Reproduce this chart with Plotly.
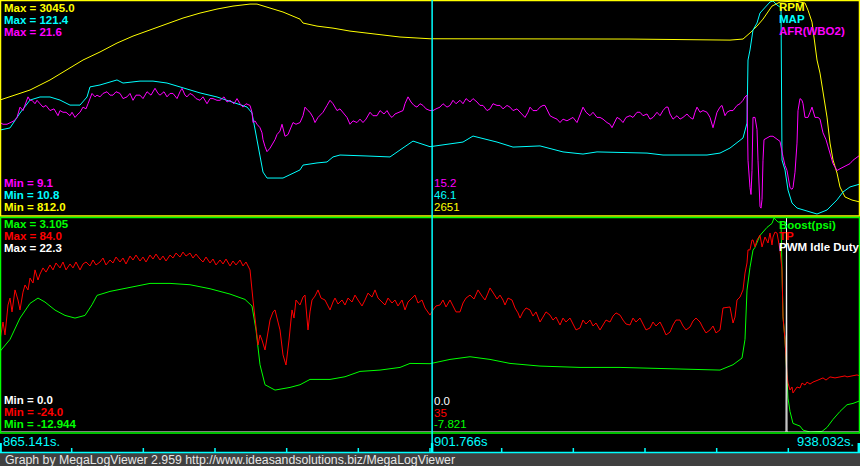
import plotly.graph_objects as go

# ---------------- log window ----------------
T0, T1 = 865.141, 938.032          # visible time window (s)
N_REC = 860                        # records in the window
REC_DT = (T1 - T0) / N_REC         # log record period (s)
CURSOR_T = 901.766

# ---------------- scales (min, max) ----------------
rpm_scale = (812.0, 3045.0)
map_scale = (10.8, 121.4)
afr_scale = (9.1, 21.6)
boost_scale = (-12.944, 3.105)
tp_scale = (-24.0, 84.0)
pwm_scale = (0.0, 22.3)

# cursor read-outs
cur_afr, cur_map, cur_rpm = "15.2", "46.1", "2651"
cur_pwm, cur_tp, cur_boost = "0.0", "35", "-7.821"

# ---------------- series (record number, value) ----------------
rpm_rec = [0, 30, 50, 67, 83, 100, 117, 133, 150, 167,
           183, 200, 217, 233, 250, 257, 267, 283, 300, 303,
           317, 333, 350, 367, 383, 400, 430, 530, 630, 730,
           743, 750, 757, 763, 772, 780, 795, 805, 808, 812,
           817, 820, 823, 827, 830, 833, 837, 840, 845, 852,
           860]
rpm = [2012, 2116, 2221, 2325, 2429, 2513, 2606, 2679, 2742, 2804,
       2867, 2919, 2961, 2992, 3013, 3013, 2982, 2930, 2856, 2815,
       2783, 2762, 2731, 2710, 2689, 2669, 2651, 2648, 2648, 2637,
       2648, 2712, 2783, 2856, 2992, 3034, 3045, 3024, 2950, 2825,
       2429, 2293, 2085, 1834, 1563, 1386, 1250, 1104, 1000, 968,
       948]

map_rec = [0, 10, 20, 30, 40, 50, 60, 70, 80, 87,
           90, 100, 117, 123, 140, 153, 167, 183, 200, 217,
           233, 247, 252, 257, 260, 263, 267, 283, 300, 303,
           317, 327, 333, 340, 367, 390, 400, 413, 430, 463,
           473, 497, 513, 540, 563, 583, 597, 647, 663, 707,
           720, 730, 743, 747, 748, 750, 753, 757, 760, 770,
           773, 777, 780, 781, 782, 785, 788, 792, 797, 803,
           817, 827, 837, 843, 850, 860]
map_kpa = [54.7, 55.8, 63.5, 70.2, 71.8, 71.8, 70.2, 67.6, 67.6, 71.8,
           77.0, 78.0, 80.6, 79.0, 80.0, 80.0, 79.0, 76.4, 73.9, 71.8,
           69.2, 66.6, 63.5, 49.6, 42.8, 33.0, 29.9, 29.9, 34.1, 36.6,
           37.7, 38.2, 40.8, 41.8, 41.3, 40.8, 44.4, 49.0, 46.1, 48.5,
           51.6, 48.5, 45.9, 46.5, 43.4, 42.3, 43.4, 42.8, 41.8, 41.8,
           42.8, 45.4, 50.6, 58.3, 90.9, 96.1, 106.4, 110.0, 115.2, 120.9,
           121.4, 119.3, 118.3, 118.0, 39.2, 34.1, 23.7, 17.0, 14.4, 13.4,
           11.3, 13.4, 18.6, 22.7, 25.3, 26.8]

afr_rec = [0, 3, 7, 10, 14, 17, 20, 23, 25, 28,
           30, 32, 35, 37, 40, 43, 46, 50, 54, 58,
           60, 63, 66, 70, 72, 75, 78, 80, 83, 86,
           88, 90, 92, 95, 97, 100, 103, 107, 110, 113,
           116, 120, 123, 127, 130, 133, 136, 140, 143, 147,
           151, 155, 158, 160, 164, 167, 170, 173, 177, 180,
           182, 185, 187, 190, 193, 196, 200, 203, 207, 210,
           213, 217, 220, 224, 227, 230, 234, 237, 240, 243,
           246, 250, 252, 253, 255, 257, 260, 262, 263, 265,
           267, 270, 272, 275, 277, 280, 282, 284, 285, 288,
           290, 293, 296, 300, 303, 305, 308, 310, 313, 315,
           318, 320, 323, 327, 330, 333, 337, 340, 343, 347,
           350, 353, 357, 360, 363, 366, 370, 373, 377, 380,
           384, 387, 390, 392, 395, 400, 403, 405, 408, 411,
           414, 417, 420, 423, 426, 430, 433, 436, 440, 443,
           447, 450, 453, 456, 460, 463, 466, 470, 473, 477,
           480, 483, 487, 490, 493, 497, 500, 503, 507, 510,
           513, 517, 520, 523, 525, 528, 530, 533, 537, 540,
           543, 545, 548, 550, 553, 557, 560, 563, 567, 570,
           573, 577, 580, 583, 586, 590, 593, 597, 600, 603,
           607, 610, 612, 615, 617, 620, 623, 626, 630, 633,
           637, 640, 643, 647, 650, 653, 657, 660, 663, 666,
           668, 670, 673, 677, 680, 683, 687, 690, 693, 695,
           697, 700, 703, 707, 710, 713, 715, 717, 720, 722,
           725, 727, 730, 733, 737, 740, 743, 745, 747, 748,
           750, 751, 752, 753, 755, 757, 758, 760, 761, 762,
           763, 764, 767, 770, 773, 775, 778, 780, 783, 785,
           787, 788, 790, 792, 793, 795, 797, 798, 800, 802,
           803, 805, 808, 810, 812, 815, 818, 820, 823, 826,
           828, 831, 833, 835, 837, 840, 843, 847, 850, 853,
           855, 858, 860]
afr = [14.5, 14.4, 14.4, 14.5, 14.6, 14.8, 15.4, 15.2, 15.5, 16.0,
       15.8, 15.8, 15.6, 15.8, 15.6, 15.4, 15.5, 15.2, 15.3, 14.9,
       15.2, 15.1, 15.1, 14.9, 15.1, 14.8, 15.0, 15.1, 15.4, 15.3,
       15.6, 15.9, 16.2, 16.0, 16.1, 16.0, 16.2, 16.3, 16.1, 16.1,
       16.3, 16.2, 15.9, 16.0, 16.2, 15.8, 16.1, 16.1, 15.9, 16.3,
       16.1, 16.5, 16.2, 16.1, 16.3, 16.0, 16.2, 16.2, 15.9, 16.3,
       16.5, 16.1, 16.0, 16.2, 16.1, 15.9, 15.8, 16.0, 15.6, 15.9,
       15.9, 15.8, 15.8, 16.0, 15.7, 15.8, 15.6, 15.9, 15.6, 15.4,
       15.6, 15.5, 15.1, 14.5, 14.6, 14.4, 14.2, 13.9, 13.5, 13.1,
       12.8, 13.0, 13.2, 13.5, 13.8, 14.0, 14.4, 14.0, 13.7, 13.8,
       14.1, 14.5, 14.4, 14.5, 14.9, 15.4, 15.2, 15.1, 14.8, 14.5,
       14.8, 14.9, 15.1, 15.5, 15.8, 15.6, 15.2, 15.3, 15.1, 14.8,
       14.4, 14.6, 14.5, 14.7, 14.5, 14.7, 15.1, 14.9, 14.9, 15.2,
       15.0, 15.2, 14.9, 14.8, 15.0, 15.1, 15.2, 15.6, 16.0, 15.7,
       15.5, 15.4, 15.6, 15.5, 15.3, 15.2, 15.2, 15.3, 15.4, 15.6,
       15.4, 15.5, 15.8, 15.6, 15.8, 15.6, 15.9, 15.7, 15.9, 15.7,
       15.5, 15.5, 15.2, 15.3, 15.6, 15.5, 15.5, 15.3, 15.5, 15.4,
       15.2, 15.3, 15.1, 14.9, 14.8, 15.1, 15.4, 15.2, 15.2, 15.4,
       15.5, 15.5, 15.1, 14.9, 14.8, 14.7, 14.5, 14.7, 14.6, 14.7,
       14.8, 14.5, 15.0, 15.4, 15.1, 14.9, 15.1, 14.8, 14.8, 14.7,
       14.5, 14.4, 14.2, 14.6, 14.8, 14.7, 14.5, 14.8, 14.9, 14.8,
       15.1, 15.1, 14.9, 15.0, 14.7, 14.8, 15.1, 14.9, 15.2, 15.4,
       15.4, 15.0, 14.7, 14.9, 14.7, 14.8, 15.0, 14.8, 14.7, 15.1,
       15.4, 15.1, 15.2, 15.1, 14.8, 14.2, 14.7, 15.1, 15.4, 15.5,
       14.9, 15.1, 15.2, 15.2, 15.5, 15.6, 15.8, 16.0, 16.1, 12.3,
       10.7, 10.3, 11.7, 14.8, 14.8, 14.1, 12.3, 9.6, 9.5, 10.0,
       12.3, 13.5, 13.6, 13.7, 13.7, 13.6, 13.5, 13.4, 12.5, 12.0,
       11.7, 11.3, 10.7, 10.6, 10.7, 11.6, 13.3, 15.2, 15.9, 15.8,
       15.6, 14.8, 14.8, 15.1, 15.4, 14.8, 14.8, 14.7, 13.9, 13.5,
       13.1, 12.6, 12.1, 11.9, 11.7, 11.8, 11.9, 12.0, 12.1, 12.3,
       12.4, 12.5, 12.6]

boost_rec = [0, 10, 20, 30, 38, 45, 55, 65, 75, 85,
             92, 97, 110, 130, 150, 170, 190, 210, 230, 245,
             252, 256, 260, 265, 275, 290, 300, 310, 330, 345,
             360, 380, 400, 410, 430, 450, 470, 490, 510, 540,
             580, 620, 660, 700, 720, 733, 742, 745, 747, 750,
             753, 755, 760, 767, 772, 774, 778, 781, 782, 783,
             785, 787, 788, 790, 793, 800, 803, 810, 818, 822,
             827, 833, 840, 847, 853, 860]
boost = [-6.9, -6.0, -4.4, -3.3, -2.9, -3.2, -3.8, -4.2, -4.4, -4.2,
         -3.4, -2.7, -2.4, -2.1, -1.8, -1.8, -1.9, -2.2, -2.6, -3.0,
         -3.5, -5.3, -7.9, -9.4, -9.8, -9.6, -9.4, -9.0, -9.0, -8.8,
         -8.4, -8.3, -8.1, -7.8, -7.821, -7.5, -7.3, -7.5, -7.8, -8.0,
         -8.1, -8.1, -8.2, -8.3, -8.3, -7.9, -7.4, -6.0, -2.3, -0.6,
         0.7, 0.9, 1.8, 2.4, 2.7, 3.105, 2.8, 2.8, -1.0, -4.3,
         -6.0, -9.0, -10.4, -11.4, -12.3, -12.5, -12.8, -12.944, -12.944, -12.9,
         -12.6, -12.0, -11.4, -10.9, -10.8, -10.6]

tp_rec = [0, 3, 5, 8, 10, 12, 15, 18, 20, 23,
          25, 28, 30, 33, 35, 38, 40, 43, 46, 50,
          53, 56, 60, 63, 66, 70, 73, 76, 80, 83,
          86, 90, 93, 96, 100, 103, 106, 110, 113, 116,
          120, 123, 126, 130, 133, 136, 140, 143, 146, 150,
          153, 156, 160, 163, 166, 170, 173, 176, 180, 183,
          186, 190, 193, 196, 200, 203, 206, 210, 213, 216,
          220, 223, 226, 230, 233, 236, 240, 243, 246, 250,
          253, 256, 258, 260, 262, 265, 268, 270, 273, 275,
          278, 280, 283, 286, 289, 292, 294, 296, 300, 303,
          305, 308, 310, 312, 315, 318, 321, 325, 328, 330,
          333, 335, 338, 342, 345, 348, 352, 355, 358, 362,
          365, 368, 372, 375, 378, 382, 385, 388, 392, 395,
          398, 402, 405, 408, 412, 415, 418, 422, 425, 428,
          430, 433, 436, 440, 443, 446, 450, 453, 456, 460,
          463, 466, 470, 474, 478, 482, 485, 488, 490, 494,
          497, 500, 503, 505, 508, 512, 515, 518, 520, 523,
          526, 530, 533, 536, 540, 543, 546, 550, 553, 556,
          560, 563, 566, 570, 573, 576, 580, 583, 586, 590,
          593, 596, 600, 603, 606, 610, 613, 616, 620, 623,
          626, 630, 633, 636, 640, 643, 646, 650, 653, 656,
          660, 663, 666, 670, 673, 676, 680, 683, 686, 690,
          693, 696, 700, 703, 706, 710, 713, 716, 720, 723,
          727, 730, 733, 735, 737, 740, 743, 745, 747, 748,
          750, 752, 753, 755, 757, 760, 762, 765, 768, 770,
          772, 773, 775, 777, 780, 782, 783, 785, 787, 788,
          790, 792, 793, 795, 797, 800, 802, 805, 807, 810,
          813, 818, 823, 826, 830, 835, 840, 845, 847, 852,
          857, 860]
tp = [22.4, 31.5, 25.0, 40.1, 43.6, 36.6, 47.7, 42.6, 37.6, 46.6,
      50.2, 47.7, 53.7, 51.2, 57.8, 52.7, 55.7, 58.8, 56.7, 60.3,
      57.8, 61.3, 58.8, 61.8, 57.8, 60.8, 58.8, 61.8, 57.8, 60.8,
      61.8, 59.8, 62.8, 60.3, 61.8, 63.8, 60.3, 62.8, 61.3, 64.3,
      61.8, 63.8, 60.8, 64.8, 62.8, 65.3, 62.3, 64.3, 61.8, 65.3,
      63.3, 65.8, 62.8, 64.8, 62.3, 65.3, 63.8, 66.3, 64.3, 66.8,
      64.8, 66.3, 63.8, 65.8, 63.3, 61.8, 64.3, 61.3, 63.3, 60.3,
      62.8, 60.8, 63.3, 59.8, 62.3, 60.3, 62.8, 59.8, 61.8, 57.8,
      42.6, 27.5, 19.9, 25.0, 22.4, 17.4, 27.5, 32.5, 36.6, 37.6,
      31.5, 27.5, 14.9, 9.8, 22.4, 37.6, 33.5, 42.6, 40.1, 44.1,
      45.1, 27.5, 36.6, 42.6, 44.6, 47.7, 43.6, 42.6, 39.6, 37.6,
      41.6, 43.6, 40.6, 42.6, 40.1, 43.6, 41.6, 45.1, 42.6, 39.6,
      42.6, 46.1, 44.1, 47.7, 43.6, 41.6, 40.1, 43.6, 41.1, 42.6,
      39.6, 42.6, 37.6, 41.6, 43.6, 45.1, 41.1, 42.6, 38.6, 36.6,
      35.0, 37.6, 39.6, 40.1, 42.6, 39.1, 42.6, 39.6, 36.6, 36.6,
      41.1, 43.6, 45.1, 43.1, 47.7, 44.6, 42.6, 46.1, 48.7, 45.6,
      43.1, 45.1, 42.6, 40.1, 43.6, 42.6, 38.6, 36.1, 33.5, 36.6,
      38.6, 37.6, 34.5, 36.6, 31.5, 34.0, 36.6, 35.0, 32.5, 34.0,
      30.0, 33.5, 31.5, 33.5, 30.5, 27.5, 28.5, 32.5, 30.5, 32.5,
      29.5, 31.0, 27.5, 30.0, 32.5, 31.5, 34.5, 36.1, 35.0, 32.5,
      30.5, 30.0, 33.5, 31.5, 33.5, 30.5, 27.5, 28.5, 31.5, 29.5,
      31.5, 28.5, 25.0, 26.4, 30.0, 32.5, 32.5, 29.5, 27.5, 29.0,
      32.0, 33.5, 31.5, 28.5, 26.0, 27.5, 29.5, 26.0, 27.5, 38.6,
      39.1, 39.1, 31.0, 34.0, 42.6, 44.1, 47.7, 56.2, 61.3, 67.9,
      67.9, 72.9, 72.9, 69.4, 72.9, 75.4, 69.4, 74.4, 71.4, 76.4,
      70.4, 74.4, 76.9, 76.4, 67.9, 57.8, 34.0, 22.4, 4.8, 0.7,
      -2.8, -1.3, -4.3, -2.8, -1.3, -1.8, 0.7, -0.3, 1.2, 0.2,
      1.2, 2.2, 3.3, 2.2, 3.8, 3.3, 3.8, 4.3, 3.8, 4.3,
      4.8, 4.3]

pwm_rec = [0, 786, 786.5, 787, 860]
pwm = [0.0, 0.0, 22.3, 0.0, 0.0]

# ---------------- colours ----------------
YEL, CYA, MAG = "#FFFF00", "#00FFFF", "#FF00FF"
GRN, RED, WHT = "#00FF00", "#FF0000", "#FFFFFF"

W, H = 860, 466


def t_of(recs):
    return [T0 + r * REC_DT for r in recs]


def px(x):
    return x / W


def py(y):
    return 1 - y / H


fig = go.Figure()
series = [
    (rpm_rec, rpm, YEL, "y"),
    (map_rec, map_kpa, CYA, "y2"),
    (afr_rec, afr, MAG, "y3"),
    (boost_rec, boost, GRN, "y4"),
    (tp_rec, tp, RED, "y5"),
    (pwm_rec, pwm, WHT, "y6"),
]
for rec, val, col, ax in series:
    fig.add_trace(go.Scatter(x=t_of(rec), y=val, mode="lines", yaxis=ax, xaxis="x",
                             line=dict(color=col, width=1), hoverinfo="skip"))

top_dom = [py(215), py(1)]
bot_dom = [py(432), py(218)]
hid = dict(visible=False, fixedrange=True)
fig.update_layout(
    width=W, height=H, margin=dict(l=0, r=0, t=0, b=0),
    paper_bgcolor="#000000", plot_bgcolor="#000000", showlegend=False,
    xaxis=dict(range=[T0, T1], domain=[0, 1], **hid),
    yaxis=dict(domain=top_dom, range=list(rpm_scale), **hid),
    yaxis2=dict(overlaying="y", range=list(map_scale), **hid),
    yaxis3=dict(overlaying="y", range=list(afr_scale), **hid),
    yaxis4=dict(domain=bot_dom, range=list(boost_scale), **hid),
    yaxis5=dict(overlaying="y4", range=list(tp_scale), **hid),
    yaxis6=dict(overlaying="y4", range=list(pwm_scale), **hid),
)

shapes = []
# footer band
shapes.append(dict(type="rect", xref="paper", yref="paper", x0=0, x1=1, y0=0, y1=py(453),
                   fillcolor="#404040", line=dict(width=0), layer="above"))
# time strip base line
shapes.append(dict(type="line", xref="paper", yref="paper", x0=0, x1=1, y0=py(452.5), y1=py(452.5),
                   line=dict(color=CYA, width=1.5), layer="above"))
# panel borders
shapes.append(dict(type="rect", xref="paper", yref="paper", x0=px(0.5), x1=px(859.5),
                   y0=py(216), y1=py(0.5), line=dict(color=YEL, width=1.5), layer="above"))
shapes.append(dict(type="rect", xref="paper", yref="paper", x0=px(0.5), x1=px(859.5),
                   y0=py(433), y1=py(217.6), line=dict(color=GRN, width=1.5), layer="above"))
# cursor
shapes.append(dict(type="line", xref="x", yref="paper", x0=CURSOR_T, x1=CURSOR_T,
                   y0=py(452), y1=py(0), line=dict(color=CYA, width=1.5), layer="above"))
# time ticks
for k in range(1, 12):
    tk = T0 + k * (T1 - T0) / 12
    shapes.append(dict(type="line", xref="x", yref="paper", x0=tk, x1=tk, y0=py(452), y1=py(448),
                       line=dict(color=CYA, width=1.5), layer="above"))
for tk in (T0 + 0.6 * REC_DT, CURSOR_T, T1 - 1.2 * REC_DT):
    shapes.append(dict(type="line", xref="x", yref="paper", x0=tk, x1=tk, y0=py(452), y1=py(443),
                       line=dict(color=CYA, width=2.5), layer="above"))
fig.update_layout(shapes=shapes)

FONT = "Liberation Sans, Arial, sans-serif"


def label(x, y, text, color, bold=True, size=11.5, xanchor="left"):
    fig.add_annotation(x=px(x), y=py(y), xref="paper", yref="paper",
                       text=f"<b>{text}</b>" if bold else text, showarrow=False,
                       xanchor=xanchor, yanchor="middle", borderpad=0, borderwidth=0,
                       font=dict(family=FONT, size=size, color=color))


# top panel
label(4, 8, f"Max = {rpm_scale[1]:.1f}", YEL)
label(4, 20, f"Max = {map_scale[1]:.1f}", CYA)
label(4, 32, f"Max = {afr_scale[1]:.1f}", MAG)
label(4, 183, f"Min = {afr_scale[0]:.1f}", MAG)
label(4, 195, f"Min = {map_scale[0]:.1f}", CYA)
label(4, 207, f"Min = {rpm_scale[0]:.1f}", YEL)
label(779, 7, "RPM", YEL)
label(779, 19, "MAP", CYA)
label(779, 31, "AFR(WBO2)", MAG)
label(434, 183, cur_afr, MAG, bold=False, size=11.5)
label(434, 195, cur_map, CYA, bold=False, size=11.5)
label(434, 207, cur_rpm, YEL, bold=False, size=11.5)

# bottom panel
label(4, 224, f"Max = {boost_scale[1]:.3f}", GRN)
label(4, 236, f"Max = {tp_scale[1]:.1f}", RED)
label(4, 248, f"Max = {pwm_scale[1]:.1f}", WHT)
label(4, 400, f"Min = {pwm_scale[0]:.1f}", WHT)
label(4, 412, f"Min = {tp_scale[0]:.1f}", RED)
label(4, 424, f"Min = {boost_scale[0]:.3f}", GRN)
label(779, 225, "Boost(psi)", GRN)
label(779, 236, "TP", RED)
label(779, 247, "PWM Idle Duty", WHT)
label(434, 401, cur_pwm, WHT, bold=False, size=11.5)
label(434, 413, cur_tp, RED, bold=False, size=11.5)
label(434, 424, cur_boost, GRN, bold=False, size=11.5)

# time labels
label(3, 441, f"{T0:.3f}s.", CYA, bold=False, size=13)
label(434, 441, f"{CURSOR_T:.3f}s", CYA, bold=False, size=13)
label(854, 441, f"{T1:.3f}s.", CYA, bold=False, size=13, xanchor="right")

# footer
label(5, 459.5, "Graph by MegaLogViewer 2.959 http://www.ideasandsolutions.biz/MegaLogViewer",
      "#E6E6E6", bold=False, size=12.3)

fig.write_html(
    "out.html",
    config={"displayModeBar": False, "staticPlot": True},
    post_script="document.body.style.margin='0';document.body.style.padding='0';"
                "document.body.style.overflow='hidden';",
)
